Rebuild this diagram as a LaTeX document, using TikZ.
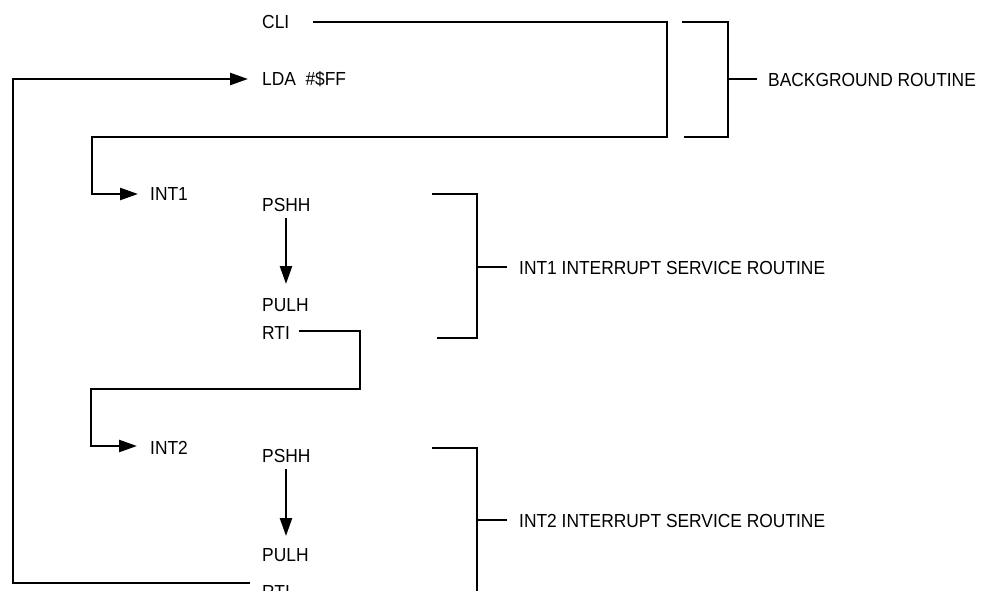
\documentclass[tikz,border=0pt]{standalone}
\usepackage{fontspec}
\setmainfont[FakeStretch=0.92]{Liberation Sans}
\usetikzlibrary{arrows.meta}
\begin{document}
\begin{tikzpicture}[x=1pt,y=-1pt,
  ln/.style={line width=2.5pt, line cap=butt, line join=miter},
  arr/.style={ln, -{Triangle[length=18pt,width=12pt]}},
  lbl/.style={anchor=base west, inner sep=0pt, font=\fontsize{18.9}{22}\selectfont}]
\useasboundingbox (0,0) rectangle (990,591);
\clip (0,0) rectangle (990,591);
% text nodes
\node[lbl] (cli)  at (262,28.5)  {CLI};
\node[lbl] (lda)  at (262,86) {LDA\hspace{9.5pt}\#\$FF};
\node[lbl] (int1) at (150,200.5) {INT1};
\node[lbl] (pshA) at (262,211) {PSHH};
\node[lbl] (pulA) at (262,311) {PULH};
\node[lbl] (rtiA) at (262,339) {RTI};
\node[lbl] (int2) at (150,454) {INT2};
\node[lbl] (pshB) at (262,462.5) {PSHH};
\node[lbl] (pulB) at (262,561.5) {PULH};
\node[lbl] (rtiB) at (262,598) {RTI};
\node[lbl] (bg)   at (768,87) {BACKGROUND ROUTINE};
\node[lbl] (isrA) at (519,274) {INT1 INTERRUPT SERVICE ROUTINE};
\node[lbl] (isrB) at (519,527) {INT2 INTERRUPT SERVICE ROUTINE};
% coordinates
\coordinate (c1) at (313,22);
\coordinate (c2) at (667,22);
\coordinate (c3) at (667,137);
\coordinate (c4) at (92,137);
\coordinate (c5) at (92,194);
\coordinate (c6) at (138,194);
\coordinate (r1) at (299,331);
\coordinate (r2) at (360,331);
\coordinate (r3) at (360,389);
\coordinate (r4) at (91,389);
\coordinate (r5) at (91,446);
\coordinate (r6) at (137,446);
\coordinate (b1) at (250,583);
\coordinate (b2) at (13,583);
\coordinate (b3) at (13,79);
\coordinate (b4) at (248,79);
% flow connectors
\draw[arr] (c1) -- (c2) -- (c3) -- (c4) -- (c5) -- (c6);
\draw[arr] (r1) -- (r2) -- (r3) -- (r4) -- (r5) -- (r6);
\draw[arr] (b1) -- (b2) -- (b3) -- (b4);
\draw[arr] (286,218) -- (286,284);
\draw[arr] (286,469) -- (286,536);
% brackets
\draw[ln] (682,22) -- (728,22) -- (728,137) -- (684,137);
\draw[ln] (728,79) -- (757,79);
\draw[ln] (432,194) -- (477,194) -- (477,338) -- (437,338);
\draw[ln] (477,267) -- (507,267);
\draw[ln] (432,448) -- (477,448) -- (477,600);
\draw[ln] (477,520) -- (507,520);
\end{tikzpicture}
\end{document}
